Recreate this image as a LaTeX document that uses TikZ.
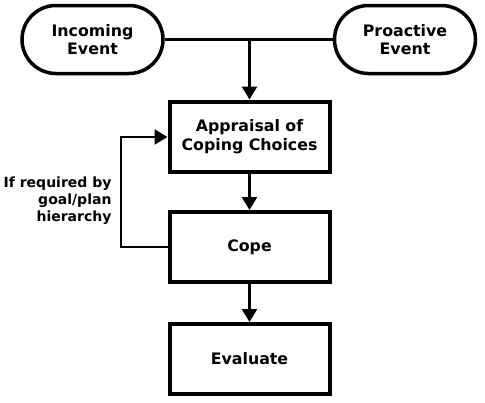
\documentclass[tikz,border=0pt]{standalone}
\usepackage{fontspec}
\setmainfont{DejaVu Sans}
\usetikzlibrary{shapes.misc,arrows.meta}
\begin{document}
\begin{tikzpicture}[x=1pt,y=-1pt,
  every node/.style={font=\bfseries\fontsize{15.8}{18.5}\selectfont},
  event/.style={draw,line width=3.5pt,rounded rectangle,minimum width=141pt,minimum height=68pt,align=center,inner sep=0pt},
  stepbox/.style={draw,line width=4pt,rectangle,minimum width=160pt,minimum height=70pt,align=center,inner sep=0pt},
  conn/.style={line width=2.5pt},
  arr/.style={conn,-{Triangle[length=13pt,width=15pt]}}]
\useasboundingbox (0,0) rectangle (485,402);
\node[event] (inc) at (92.5,39.5) {Incoming\\Event};
\node[event] (pro) at (405,39.5) {Proactive\\Event};
\node[stepbox] (app) at (249.5,136.5) {Appraisal of\\Coping Choices};
\node[stepbox] (cope) at (249.5,247) {Cope};
\node[stepbox] (eval) at (249.5,359) {Evaluate};
\coordinate (j) at (249.5,39.5);
\coordinate (fb1) at (121,247);
\coordinate (fb2) at (121,137);
\draw[conn] (inc.east) -- (pro.west);
\draw[arr] (j) -- (app.north);
\draw[arr] (app.south) -- (cope.north);
\draw[arr] (cope.south) -- (eval.north);
\draw[arr] (cope.west) -- (fb1) -- (fb2) -- (fb2 -| app.west);
\node[align=right,anchor=east,font=\bfseries\fontsize{14}{17}\selectfont] (lbl) at (115,201) {If required by\\goal/plan\\hierarchy};
\end{tikzpicture}
\end{document}
